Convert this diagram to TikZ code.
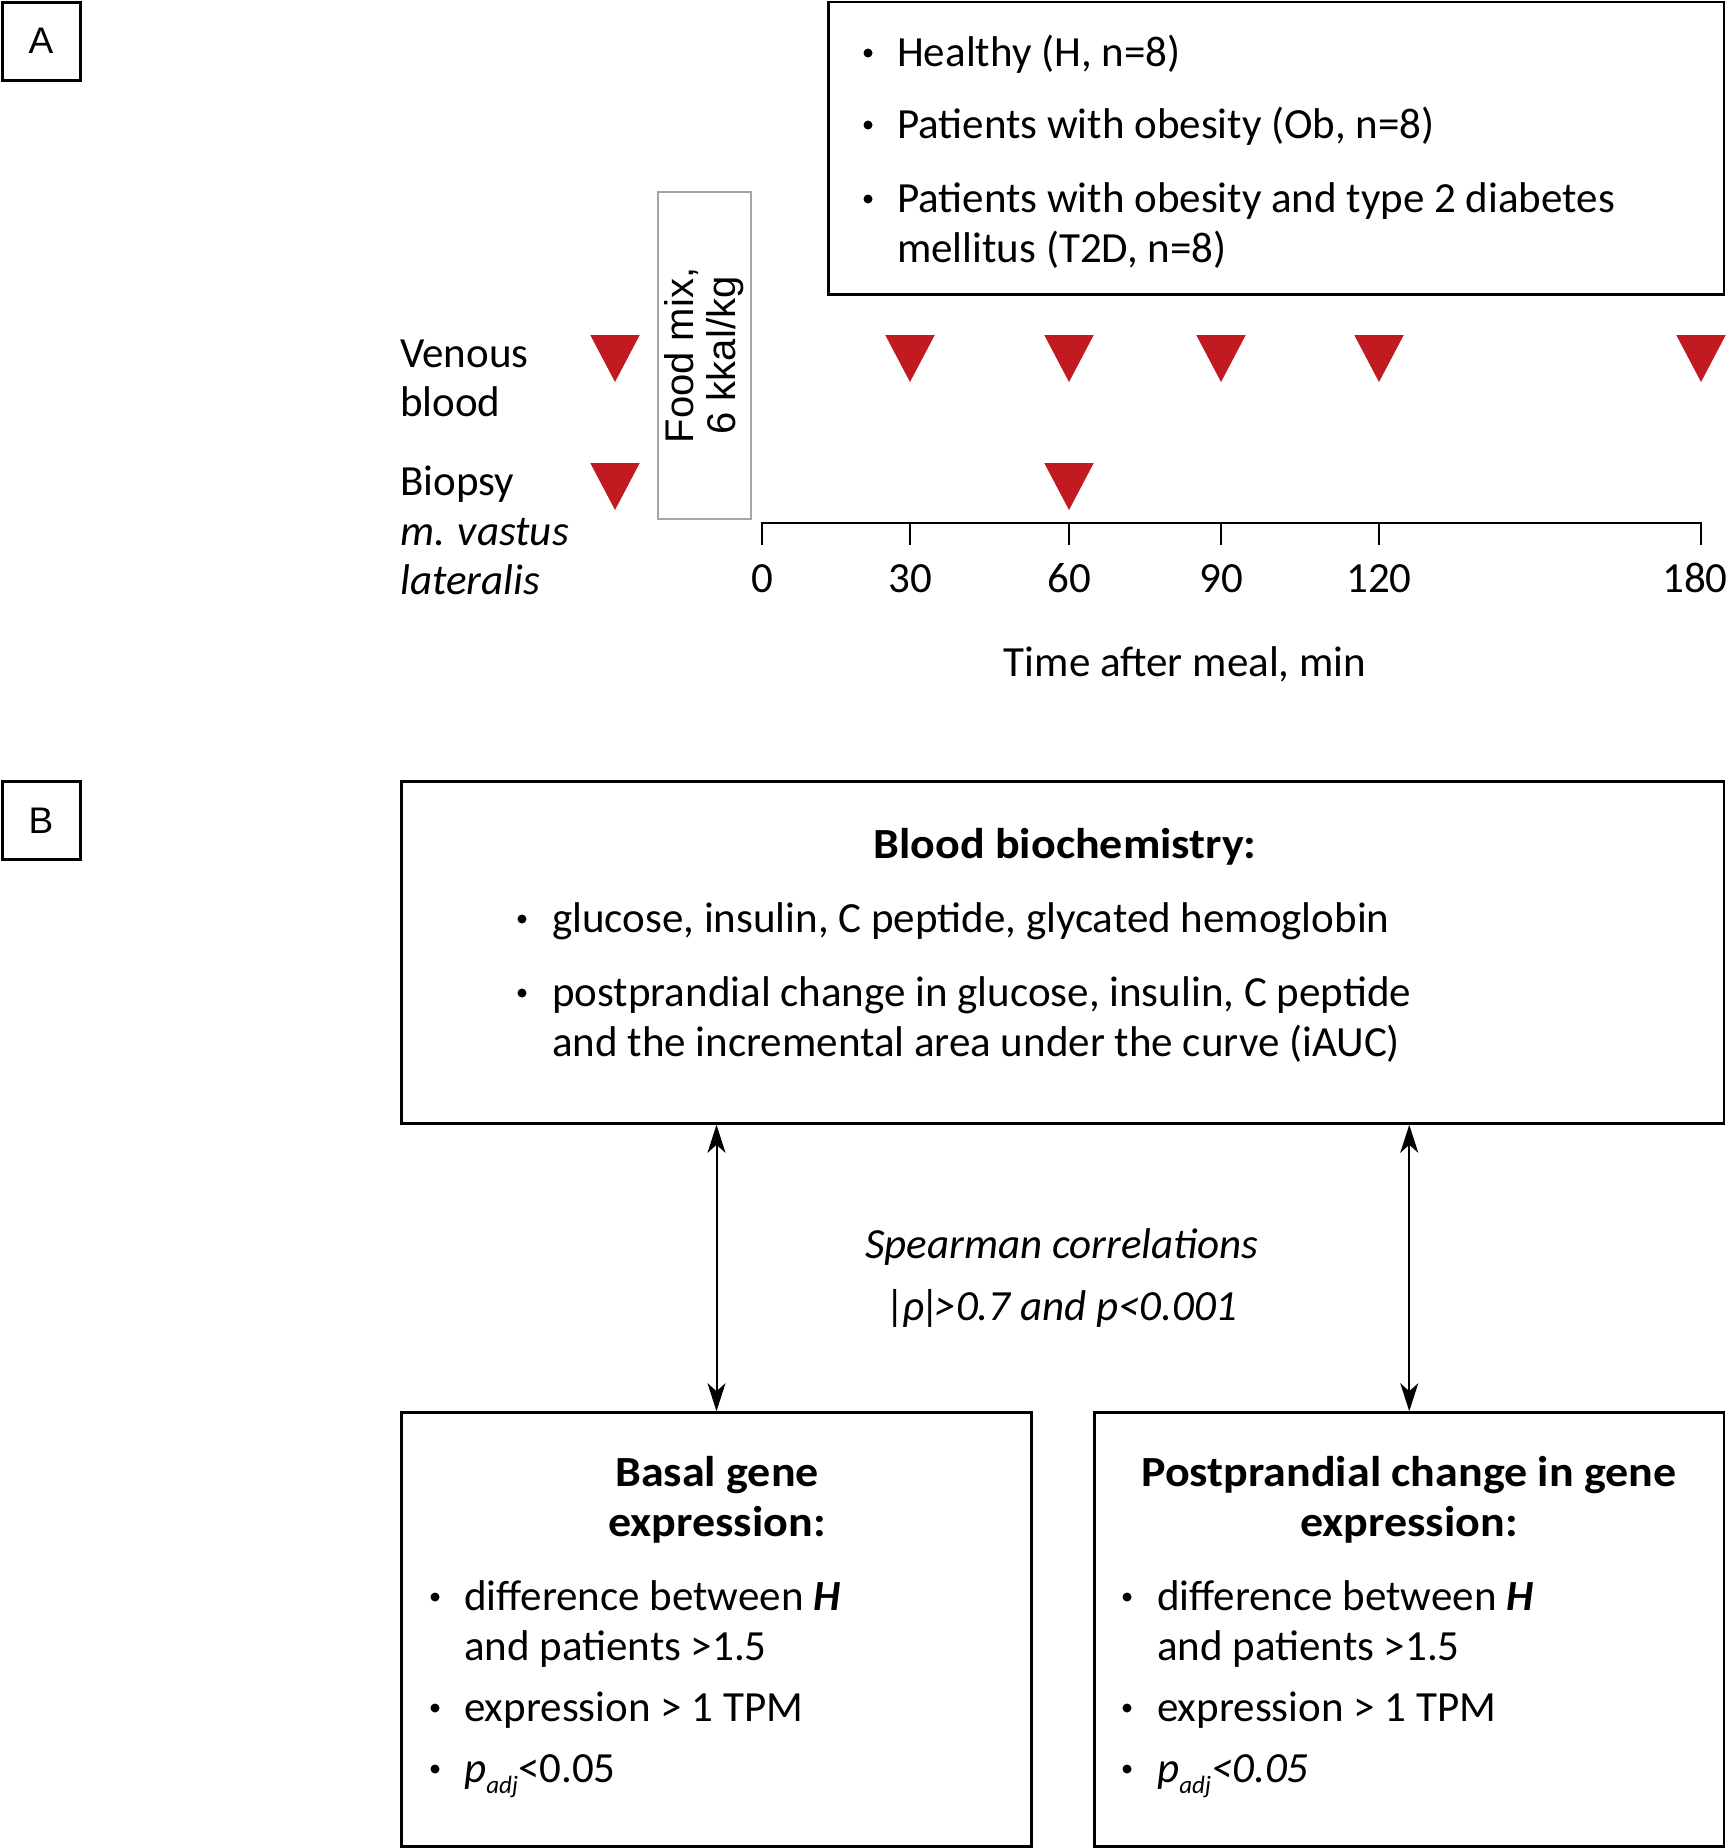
\documentclass[tikz,border=0pt]{standalone}
\usepackage{fontspec}
\setmainfont{Carlito}[BoldFeatures={FakeStretch=1.07}]
\newfontfamily\labfont{Liberation Sans}
\usetikzlibrary{arrows.meta,calc}
\definecolor{trired}{RGB}{193,26,32}
\definecolor{foodgray}{RGB}{165,165,165}
\begin{document}
\begin{tikzpicture}[x=1pt,y=-1pt,
  txt/.style={font=\fontsize{43}{50}\selectfont, inner sep=0pt},
  boxed/.style={draw, line width=2.6pt, inner sep=0pt},
  bul/.style={circle, fill, inner sep=0pt, minimum size=9pt, yshift=13pt},
  lt/.style={txt, anchor=base west},
  ct/.style={txt, anchor=base},
  dblarr/.style={line width=2pt, {Stealth[length=28pt,width=18pt,inset=8pt]}-{Stealth[length=28pt,width=18pt,inset=8pt]}},
  ax/.style={line width=2.5pt}]
\useasboundingbox (0,0) rectangle (1726,1848);

% panel labels
\node[boxed, line width=3pt, minimum size=78pt, font=\labfont\fontsize{37}{37}\selectfont] (A) at (41,41) {A};
\node[boxed, line width=3pt, minimum size=78pt, font=\labfont\fontsize{37}{37}\selectfont] (B) at (41,820.5) {B};

% groups box
\node[boxed, minimum width=895.5pt, minimum height=292.5pt] (groups) at (1276.25,148.25) {};
\node[bul] (g1b) at (868,66) {};
\node[lt] (g1) at (897,66) {Healthy (H, n=8)};
\node[bul] (g2b) at (868,138) {};
\node[lt] (g2) at (897,138) {Patients with obesity (Ob, n=8)};
\node[bul] (g3b) at (868,212) {};
\node[lt] (g3) at (897,212) {Patients with obesity and type 2 diabetes};
\node[lt] (g4) at (897,262) {mellitus (T2D, n=8)};

% food box
\node[draw=foodgray, line width=2.5pt, rotate=90, minimum width=327pt, minimum height=93pt,
      align=center, inner sep=0pt, font=\labfont\fontsize{40}{42}\selectfont] (food) at (704.5,355.5) {Food mix,\\6 kkal/kg};

% row labels
\node[lt] (ven1) at (400,367) {Venous};
\node[lt] (ven2) at (400,416) {blood};
\node[lt] (bio1) at (400,495) {Biopsy};
\node[lt] (bio2) at (400,545) {\textit{m. vastus}};
\node[lt] (bio3) at (400,594) {\textit{lateralis}};

% time axis
\coordinate (t0) at (762,523);
\coordinate (t30) at (910,523);
\coordinate (t60) at (1069,523);
\coordinate (t90) at (1221,523);
\coordinate (t120) at (1379,523);
\coordinate (t180) at (1701,523);
\draw[ax] ($(t0)+(0,22)$) -- (t0) -- (t180) -- ($(t180)+(0,22)$);
\foreach \t in {t30,t60,t90,t120} \draw[ax] (\t) -- ++(0,22);
\node[ct] (n0) at (762,592) {0};
\node[ct] (n30) at (910,592) {30};
\node[ct] (n60) at (1069,592) {60};
\node[ct] (n90) at (1221,592) {90};
\node[ct] (n120) at (1379,592) {120};
\node[ct] (n180) at (1695,592) {180};
\node[ct] (tlabel) at (1185,676) {Time after meal, min};

% sampling triangles
\foreach \x in {615,910,1069,1221,1379,1701}
  \fill[trired] (\x-24.75,335) -- (\x+24.75,335) -- (\x,382) -- cycle;
\foreach \x in {615,1069}
  \fill[trired] (\x-24.75,463) -- (\x+24.75,463) -- (\x,510) -- cycle;

% panel B
\node[boxed, minimum width=1322.5pt, minimum height=342pt] (blood) at (1062.75,952.5) {};
\node[ct] (bt) at (1065,858) {\textbf{Blood biochemistry:}};
\node[bul] (b1b) at (522,932) {};
\node[lt] (b1) at (552,932) {glucose, insulin, C peptide, glycated hemoglobin};
\node[bul] (b2b) at (522,1006) {};
\node[lt] (b2) at (552,1006) {postprandial change in glucose, insulin, C peptide};
\node[lt] (b3) at (552,1056) {and the incremental area under the curve (iAUC)};

\node[boxed, minimum width=630pt, minimum height=434pt] (basal) at (716.5,1629.5) {};
\node[boxed, minimum width=629.5pt, minimum height=434pt] (post) at (1409.25,1629.5) {};

\draw[dblarr] (basal.north |- blood.south) -- (basal.north);
\draw[dblarr] (post.north |- blood.south) -- (post.north);

\node[ct] (sp1) at (1062,1258) {\textit{Spearman correlations}};
\node[ct] (sp2) at (1062,1320) {\textit{|\kern-3ptρ\kern-3pt|\kern-7pt>0.7 and p<0.001}};

% basal box text
\node[ct] (l1) at (717,1486) {\textbf{Basal gene}};
\node[ct] (l2) at (717,1536) {\textbf{expression:}};
\node[bul] (l3b) at (435,1610) {};
\node[lt] (l3) at (464,1610) {difference between \textbf{\textit{H}}};
\node[lt] (l4) at (464,1660) {and patients >1.5};
\node[bul] (l5b) at (435,1721) {};
\node[lt] (l5) at (464,1721) {expression > 1 TPM};
\node[bul] (l6b) at (435,1782) {};
\node[lt] (l6) at (464,1782) {\textit{p}\raisebox{-11pt}{\fontsize{25}{25}\selectfont\textit{adj}}<0.05};

% postprandial box text
\node[ct] (r1) at (1409,1486) {\textbf{Postprandial change in gene}};
\node[ct] (r2) at (1409,1536) {\textbf{expression:}};
\node[bul] (r3b) at (1127,1610) {};
\node[lt] (r3) at (1157,1610) {difference between \textbf{\textit{H}}};
\node[lt] (r4) at (1157,1660) {and patients >1.5};
\node[bul] (r5b) at (1127,1721) {};
\node[lt] (r5) at (1157,1721) {expression > 1 TPM};
\node[bul] (r6b) at (1127,1782) {};
\node[lt] (r6) at (1157,1782) {\textit{p}\raisebox{-11pt}{\fontsize{25}{25}\selectfont\textit{adj}}\textit{<0.05}};
\end{tikzpicture}
\end{document}
